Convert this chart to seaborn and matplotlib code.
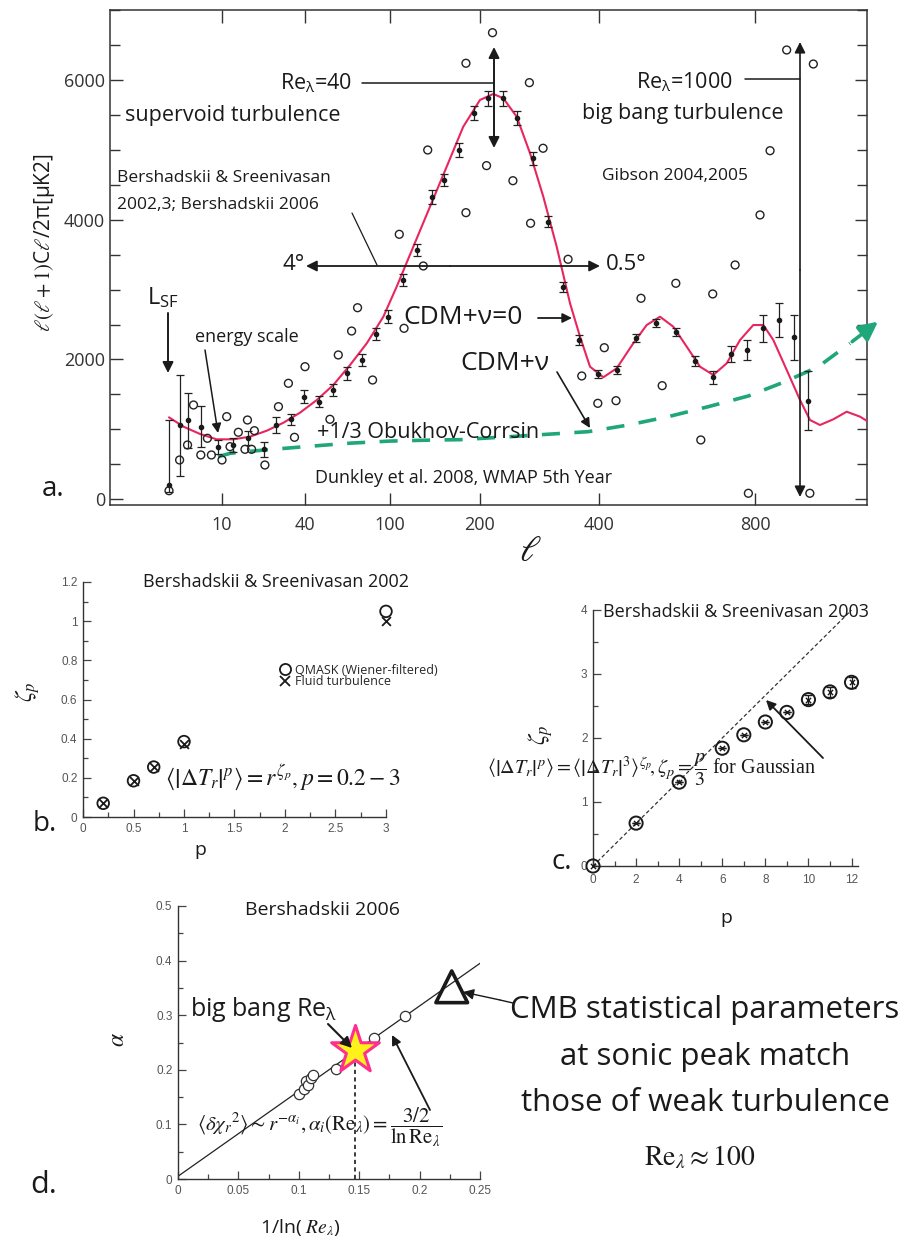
import numpy as np
import matplotlib
matplotlib.use('Agg')
import matplotlib.pyplot as plt
import seaborn as sns
from matplotlib.lines import Line2D
from matplotlib.ticker import NullLocator

# ---- panel a: CMB power spectrum ----
# WMAP 5th year binned points (l, value, error down, error up)
wmap_l = [2.0, 3.6, 4.8, 6.9, 9.4, 13.9, 19.5, 25.2, 29.5, 34.8, 39.6, 50.1, 59.6, 69.4, 80.0,
          90.1, 98.8, 114.1, 129.7, 146.3, 160.0, 176.7, 193.7, 214.0, 238.0, 261.7, 288.5, 314.8,
          339.0, 367.0, 398.2, 445.4, 494.9, 546.2, 597.4, 646.1, 693.1, 737.7, 778.7, 819.9,
          862.1, 901.0, 938.0]
wmap_v = [200, 1060, 1132, 1036, 750, 774, 870, 712, 1060, 1142, 1466, 1394, 1562, 1800, 1992,
          2364, 2612, 3138, 3568, 4332, 4571, 5001, 5527, 5742, 5742, 5455, 4882, 3974,
          3042, 2278, 1791, 1849, 2303, 2518, 2397, 1982, 1744, 2078, 2135, 2446,
          2565, 2317, 1409]
wmap_lo = [100, 730, 400, 290, 100, 100, 100, 110, 110, 80, 90, 80, 80, 90, 90,
           90, 90, 90, 90, 100, 80, 100, 100, 110, 110, 100, 90, 80,
           70, 70, 60, 60, 60, 60, 60, 70, 90, 110, 150, 190,
           240, 320, 420]
wmap_hi = [930, 720, 390, 290, 100, 100, 100, 110, 110, 80, 90, 80, 80, 90, 90,
           90, 90, 90, 90, 100, 80, 100, 100, 110, 110, 100, 90, 80,
           70, 70, 60, 60, 60, 60, 60, 70, 90, 110, 150, 190,
           240, 320, 420]

# open circles (Gibson)
circ_l = [2.0, 3.6, 4.8, 5.7, 6.8, 8.4, 7.8, 10.0, 11.7, 12.9, 15.9, 19.2, 18.3, 20.7, 21.7,
          25.5, 30.4, 36.2, 34.0, 40.0, 57.6, 63.5, 72.9, 77.1, 87.7, 110.3, 115.6, 137.0,
          141.9, 184.4, 184.4, 221.0, 211.0, 283.0, 255.3, 306.0, 285.0, 348.0, 371.0,
          413.6, 398.0, 443.6, 507.7, 597.0, 562.0, 691.6, 749.0, 813.0, 839.0, 661.0,
          783.0, 942.0, 882.0, 951.0]
circ_v = [119, 559, 774, 1347, 631, 631, 870, 559, 1180, 750, 956, 1132, 712, 712, 979,
          487, 1323, 884, 1658, 1896, 1142, 2064, 2407, 2741, 1705, 3793, 2446, 3339,
          5001, 4103, 6244, 6682, 4777, 5966, 4561, 5026, 3951, 3435, 1763,
          2168, 1371, 1409, 2876, 3091, 1624, 2938, 3353, 4070, 4991, 846,
          82, 82, 6434, 6233]

# CDM+nu=0 model curve
model_l = [2.0, 4.2, 6.7, 9.2, 14.1, 20.1, 26.2, 32.2, 38.2, 48.3, 60.0, 71.8, 83.6, 95.3,
           107.4, 125.9, 144.4, 163.0, 181.4, 200.0, 222.4, 239.2, 261.7, 284.1, 306.4,
           328.9, 351.3, 368.1, 384.9, 411.0, 445.4, 487.9, 522.3, 556.4, 590.5, 624.9,
           659.0, 693.1, 727.4, 761.6, 795.6, 821.5, 847.4, 882.1, 916.5, 942.4, 968.3,
           1002.7, 1037.4, 1071.8, 1089.0]
model_v = [1170, 1036, 931, 855, 855, 893, 979, 1093, 1237, 1418, 1634, 1920, 2231, 2612,
           3042, 3615, 4188, 4762, 5335, 5718, 5804, 5742, 5478, 4954, 4332,
           3615, 2804, 2326, 1896, 1744, 1873, 2231, 2493, 2612, 2469, 2183,
           1896, 1777, 1944, 2278, 2493, 2493, 2278, 1849, 1419, 1132, 1060,
           1142, 1251, 1180, 1122]

# CDM+nu (+1/3 Obukhov-Corrsin) dashed curve, last point = arrow tip
nu_l = [9.4, 13.0, 25.3, 40.0, 71.8, 100.0, 147.8, 177.8, 250.4, 382.0, 475.0, 577.7,
        680.3, 782.8, 877.7, 963.9, 1046.0, 1124.0]
nu_v = [606, 655, 702, 750, 800, 830, 845, 850, 893, 965, 1060, 1180,
        1323, 1476, 1681, 1896, 2231, 2565]

a_ticks = [10, 40, 100, 200, 400, 800]
# axis positions of the hand-drawn multipoint l axis
axis_l = [1, 2, 10, 40, 100, 200, 400, 800, 1090, 1400]
axis_pos = [0, 59, 112, 195, 280, 370, 489, 645, 757, 877]

# ---- panel b ----
b_p = [0.2, 0.5, 0.7, 1.0, 3.0]
b_qmask = [0.07, 0.185, 0.255, 0.385, 1.05]
b_fluid = [0.07, 0.185, 0.255, 0.375, 1.0]

# ---- panel c ----
c_p = [0, 2, 4, 6, 7, 8, 9, 10, 11, 12]
c_zeta = [0, 0.67, 1.31, 1.84, 2.05, 2.25, 2.40, 2.60, 2.72, 2.87]
c_err = [0, 0, 0, 0, 0, 0, 0, 0.07, 0.08, 0.09]
c_gauss_p = [0, 12]
c_gauss_z = [0, 4]

# ---- panel d ----
d_x = [0.100, 0.104, 0.106, 0.108, 0.110, 0.112, 0.131, 0.162, 0.188]
d_y = [0.155, 0.165, 0.180, 0.172, 0.185, 0.190, 0.201, 0.258, 0.299]
d_fit_x = [0, 0.25]
d_fit_y = [0.005, 0.395]
d_star = (0.1465, 0.236)
d_tri = (0.2266, 0.352)

sns.set_theme(style='ticks')
plt.rcParams['font.family'] = ['Open Sans', 'DejaVu Sans']
plt.rcParams['mathtext.fontset'] = 'stix'

W, H = 920, 1250
fig = plt.figure(figsize=(9.2, 12.5), dpi=100)
fig.patch.set_facecolor('white')


def box(l, t, r, b):
    return [l / W, 1 - b / H, (r - l) / W, (b - t) / H]


red = '#e8265e'
green = '#1fa67a'

# ---------------- panel a ----------------
ax = fig.add_axes(box(110, 10, 867, 505))
sns.lineplot(x=nu_l[:-1], y=nu_v[:-1], ax=ax, color=green, lw=2.6,
             linestyle=(0, (5, 4)), estimator=None, zorder=2)
ax.annotate('', xy=(nu_l[-1], nu_v[-1]), xytext=(nu_l[-2], nu_v[-2]),
            arrowprops=dict(arrowstyle='-|>', color=green, lw=2.6, mutation_scale=28),
            annotation_clip=False)
sns.lineplot(x=model_l, y=model_v, ax=ax, color=red, lw=1.5, estimator=None, zorder=3)
ax.errorbar(wmap_l, wmap_v, yerr=[wmap_lo, wmap_hi], fmt='o', ms=3, color='k',
            ecolor='#222', elinewidth=0.9, capsize=3, capthick=0.9, zorder=4)
sns.scatterplot(x=circ_l, y=circ_v, ax=ax, marker='o', s=32, facecolors='none',
                edgecolor='#222', linewidth=1.0, zorder=5)


def fwd(v):
    return np.interp(v, axis_l, axis_pos)


def inv(v):
    return np.interp(v, axis_pos, axis_l)


ax.set_xscale('function', functions=(fwd, inv))
ax.set_xlim(1, 1090)
ax.set_ylim(-86, 7007)
ax.set_xticks(a_ticks)
ax.set_xticklabels([str(t) for t in a_ticks])
ax.xaxis.set_minor_locator(NullLocator())
ax.set_yticks([0, 2000, 4000, 6000])
ax.set_yticks(np.arange(0, 7001, 500), minor=True)
ax.tick_params(which='both', top=True, right=True, direction='in', colors='#333',
               labelsize=13, width=1)
ax.tick_params(which='major', length=9)
ax.tick_params(which='minor', length=7)
ax.tick_params(axis='x', pad=8)
for s in ax.spines.values():
    s.set_color('#333')
    s.set_linewidth(1.1)
ax.set_xlabel('')
ax.set_ylabel('')

# ---------------- panel b ----------------
axb = fig.add_axes(box(83, 582, 386, 817))
sns.scatterplot(x=b_p, y=b_qmask, ax=axb, marker='o', s=70, facecolors='none',
                edgecolor='k', linewidth=1.3, clip_on=False, zorder=4)
sns.scatterplot(x=b_p, y=b_fluid, ax=axb, marker='x', s=40, color='k', linewidth=1.3,
                clip_on=False, zorder=4)
axb.set_xlim(0, 3)
axb.set_ylim(0, 1.2)
axb.set_xticks([0, 0.5, 1, 1.5, 2, 2.5, 3])
axb.set_xticklabels(['0', '0.5', '1', '1.5', '2', '2.5', '3'])
axb.set_xticks(np.arange(0, 3.01, 0.25), minor=True)
axb.set_yticks([0, 0.2, 0.4, 0.6, 0.8, 1.0, 1.2])
axb.set_yticklabels(['0', '0.2', '0.4', '0.6', '0.8', '1', '1.2'])
axb.set_yticks(np.arange(0, 1.21, 0.1), minor=True)
hb = [Line2D([], [], marker='o', ls='', mfc='none', mec='k', ms=8, mew=1.3),
      Line2D([], [], marker='x', ls='', color='k', ms=7, mew=1.3)]
axb.legend(hb, ['QMASK (Wiener-filtered)', 'Fluid turbulence'], loc='center left',
           bbox_to_anchor=(0.63, 0.6), frameon=False, fontsize=9, handlelength=0.8,
           handletextpad=0.4, labelspacing=-0.1, borderpad=0)

# ---------------- panel c ----------------
axc = fig.add_axes(box(593, 610, 858, 866))
sns.lineplot(x=c_gauss_p, y=c_gauss_z, ax=axc, color='#333', lw=0.9,
             linestyle=(0, (3, 2)), estimator=None)
axc.errorbar(c_p, c_zeta, yerr=c_err, fmt='none', ecolor='k', elinewidth=0.9, capsize=3)
sns.scatterplot(x=c_p, y=c_zeta, ax=axc, marker='o', s=90, facecolors='none',
                edgecolor='k', linewidth=1.4, zorder=4, clip_on=False)
sns.scatterplot(x=c_p, y=c_zeta, ax=axc, marker='x', s=14, color='k', linewidth=1.0,
                zorder=4, clip_on=False)
axc.set_xlim(0, 12.3)
axc.set_ylim(0, 4)
axc.set_xticks([0, 2, 4, 6, 8, 10, 12])
axc.set_xticks(np.arange(0, 12.1, 1), minor=True)
axc.set_yticks([0, 1, 2, 3, 4])
axc.set_yticks(np.arange(0, 4.01, 0.5), minor=True)

# ---------------- panel d ----------------
axd = fig.add_axes(box(178, 906, 480, 1179))
sns.lineplot(x=d_fit_x, y=d_fit_y, ax=axd, color='#222', lw=0.9, estimator=None)
axd.vlines(d_star[0], 0, d_star[1] - 0.015, colors='k', linestyles=(0, (2.5, 2)), lw=1.2)
sns.scatterplot(x=d_x, y=d_y, ax=axd, marker='o', s=55, facecolors='white',
                edgecolor='#333', linewidth=0.9, zorder=4)
axd.scatter([d_tri[0]], [d_tri[1]], marker='^', s=520, facecolors='none',
            edgecolors='k', linewidths=2.6, zorder=5)
axd.scatter([d_star[0]], [d_star[1]], marker='*', s=1300, facecolors='#fff21a',
            edgecolors='#ff2f8e', linewidths=2.2, zorder=6)
axd.set_xlim(0, 0.25)
axd.set_ylim(0, 0.5)
axd.set_xticks([0, 0.05, 0.1, 0.15, 0.2, 0.25])
axd.set_xticklabels(['0', '0.05', '0.1', '0.15', '0.2', '0.25'])
axd.set_xticks(np.arange(0, 0.251, 0.025), minor=True)
axd.set_yticks([0, 0.1, 0.2, 0.3, 0.4, 0.5])
axd.set_yticklabels(['0', '0.1', '0.2', '0.3', '0.4', '0.5'])
axd.set_yticks(np.arange(0, 0.51, 0.05), minor=True)

for a in (axb, axc, axd):
    sns.despine(ax=a)
    a.set_xlabel('')
    a.set_ylabel('')
    a.tick_params(which='both', direction='in', colors='#444', labelcolor='#555',
                  labelsize=8.5, width=0.9, pad=4)
    a.tick_params(which='major', length=6)
    a.tick_params(which='minor', length=3.5)
    for s in a.spines.values():
        s.set_color('#333')
        s.set_linewidth(1.0)
    for lab in a.get_xticklabels() + a.get_yticklabels():
        lab.set_family(['Liberation Sans', 'DejaVu Sans'])
axc.tick_params(axis='x', pad=6)

# ---------------- annotations (figure pixel coordinates) ----------------
ov = fig.add_axes([0, 0, 1, 1], zorder=10)
ov.set_xlim(0, W)
ov.set_ylim(H, 0)
ov.axis('off')
ov.patch.set_alpha(0)

serif = ['Liberation Serif', 'DejaVu Serif']


def txt(x, y, s, size, ha='left', **kw):
    ov.text(x, y, s, fontsize=size, ha=ha, va='center', color='#1a1a1a', **kw)


def arrow(x0, y0, x1, y1, both=False, lw=1.2, ms=14, color='#1a1a1a'):
    ov.annotate('', xy=(x1, y1), xytext=(x0, y0),
                arrowprops=dict(arrowstyle='<|-|>' if both else '-|>', color=color, lw=lw,
                                mutation_scale=ms, shrinkA=0, shrinkB=0))


def line(xs, ys, lw=1.1):
    ov.plot(xs, ys, color='#1a1a1a', lw=lw)


# panel a
txt(45, 243, r'$\ell(\ell+1)$C$\ell$/2π[μK2]', 15, ha='center', rotation=90)
txt(530, 552, r'$\ell$', 26, ha='center')
txt(42, 489, 'a.', 20)
txt(352, 83, r'Re$\mathregular{_λ}$=40', 15.5, ha='right')
line([362, 494], [83, 83])
arrow(494, 98, 494, 47, lw=1.4, ms=16)
arrow(494, 98, 494, 148, lw=1.4, ms=16)
txt(125, 116, 'supervoid turbulence', 15.5)
txt(117, 178, 'Bershadskii & Sreenivasan', 12.5)
txt(117, 205, '2002,3; Bershadskii 2006', 12.5)
line([352, 377], [213, 265], lw=0.9)
txt(305, 265, '4°', 16, ha='right')
arrow(450, 266, 306, 266, lw=1.3, ms=16)
arrow(450, 266, 600, 266, lw=1.3, ms=16)
txt(606, 264, '0.5°', 16)
txt(733, 82, r'Re$\mathregular{_λ}$=1000', 15.5, ha='right')
line([745, 800], [79, 79])
txt(683, 113, 'big bang turbulence', 15.5, ha='center')
txt(675, 176, 'Gibson 2004,2005', 12.5, ha='center')
arrow(800, 270, 800, 42, lw=1.2, ms=16)
arrow(800, 270, 800, 497, lw=1.2, ms=16)
txt(147, 298, r'L$\mathregular{_{SF}}$', 17)
arrow(168, 313, 168, 373, lw=1.4, ms=16)
txt(195, 337, 'energy scale', 13)
arrow(205, 350, 218, 433, lw=1.1, ms=14)
txt(403, 318, r'CDM+ν=0', 19)
arrow(538, 318, 572, 318, lw=1.3, ms=14)
txt(460, 363, r'CDM+ν', 19)
arrow(557, 372, 590, 428, lw=1.2, ms=14)
txt(317, 433, '+1/3 Obukhov-Corrsin', 15.5)
txt(315, 478, 'Dunkley et al. 2008, WMAP 5th Year', 13)

# panel b
txt(143, 582, 'Bershadskii & Sreenivasan 2002', 13)
txt(165, 778, r'$\left\langle\left|\Delta T_r\right|^p\right\rangle = r^{\zeta_p}, p=0.2-3$',
    17, family=serif)
txt(28, 692, r'$\zeta_p$', 17, ha='center', rotation=90)
txt(200, 850, 'p', 14, ha='center')
txt(33, 824, 'b.', 20)

# panel c
txt(603, 612, 'Bershadskii & Sreenivasan 2003', 13)
txt(487, 770, r'$\left\langle\left|\Delta T_r\right|^p\right\rangle=\left\langle\left|\Delta T_r\right|^3'
    r'\right\rangle^{\zeta_p}\!,\zeta_p=\dfrac{p}{3}$ for Gaussian', 14.5, family=serif)
arrow(823, 758, 766, 700, lw=1.3, ms=14)
txt(541, 735, r'$\zeta_p$', 17, ha='center', rotation=90)
txt(726, 918, 'p', 14, ha='center')
txt(552, 862, 'c.', 20)

# panel d
txt(245, 910, 'Bershadskii 2006', 14)
txt(190, 1010, r'big bang Re$\mathregular{_λ}$', 18)
arrow(328, 1024, 352, 1048, lw=1.5, ms=16)
txt(197, 1127, r'$\left\langle\delta\chi_r{}^2\right\rangle\sim r^{-\alpha_i},\alpha_i\left(\mathrm{Re}_\lambda\right)'
    r'=\dfrac{3/2}{\ln\mathrm{Re}_\lambda}$', 15, family=serif)
arrow(430, 1110, 392, 1035, lw=1.3, ms=14)
line([513, 500], [1003, 1000], lw=1.0)
arrow(500, 1000, 463, 992, lw=1.0, ms=16)
txt(118, 1040, r'$\alpha$', 17, ha='center', rotation=90)
txt(300, 1227, r'1/ln( $Re_\lambda$)', 14, ha='center')
txt(30, 1185, 'd.', 22)
txt(705, 1010, 'CMB statistical parameters', 22.5, ha='center')
txt(705, 1057, 'at sonic peak match', 22.5, ha='center')
txt(705, 1103, 'those of weak turbulence', 22.5, ha='center')
txt(700, 1158, r'$\mathrm{Re}_\lambda\approx 100$', 20, ha='center', family=serif)

fig.savefig('out.png', dpi=100, facecolor='white')
